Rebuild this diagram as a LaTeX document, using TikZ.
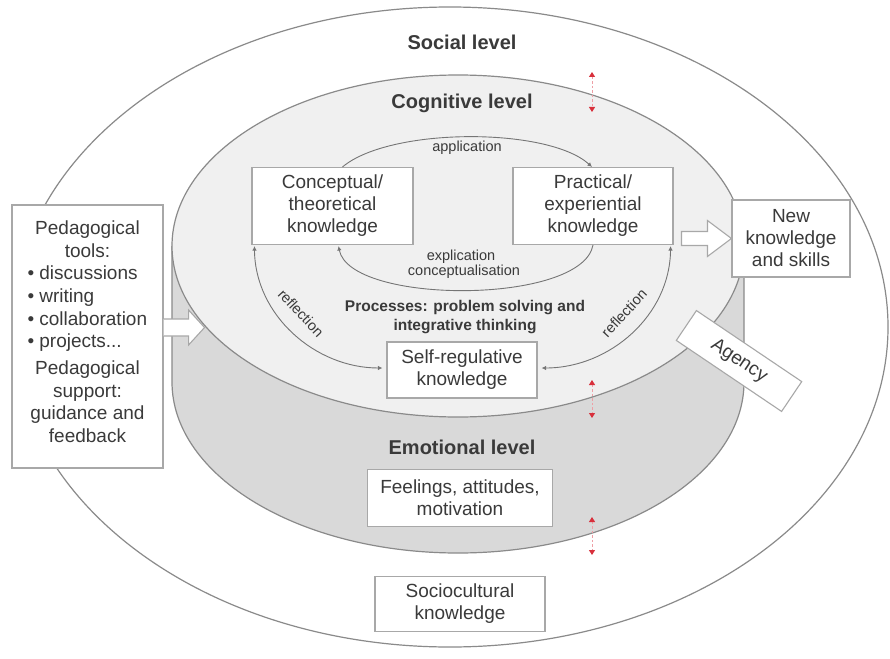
\documentclass[tikz,border=0pt]{standalone}
\usepackage{fontspec}
\setmainfont{Liberation Sans}
\usetikzlibrary{arrows.meta,calc}

\definecolor{ink}{HTML}{3A3A3A}
\definecolor{rim}{HTML}{8A8A8A}
\definecolor{boxline}{HTML}{A8A8A8}
\definecolor{topface}{HTML}{F0F0F0}
\definecolor{sideface}{HTML}{D9D9D9}
\definecolor{linkred}{HTML}{D8303C}
\definecolor{dashred}{HTML}{EE9FA5}

\newcommand\dgbox{\fontsize{19}{22}\selectfont}
\newcommand\dgped{\fontsize{19}{22.7}\selectfont}
\newcommand\dglevel{\bfseries\fontsize{20}{24}\selectfont}
\newcommand\dgproc{\bfseries\fontsize{15.5}{19}\selectfont}
\newcommand\dgsmall{\fontsize{14.5}{16}\selectfont}
\newcommand\dgitem[1]{\makebox[120pt][l]{\textbullet\ #1}}

\tikzset{flowtip/.tip={Latex[length=4.5pt,width=4.5pt]}}

\begin{document}
\begin{tikzpicture}[x=1pt,y=-1pt,
  box/.style={draw=boxline, line width=1.1pt, fill=white, text=ink,
    align=center, inner sep=0pt, font=\dgbox},
  levellabel/.style={text=ink, font=\dglevel},
  proclabel/.style={text=ink, font=\dgproc, align=center},
  flowlabel/.style={text=ink, font=\dgsmall},
  rimline/.style={draw=rim, line width=1.2pt},
  flow/.style={draw=rim!85!black, line width=0.9pt},
  blockarrow/.style={draw=boxline, line width=1.1pt, fill=white, line join=miter},
  redlink/.style={draw=dashred, line width=1pt, dash pattern=on 2.5pt off 2pt,
    {Triangle[length=5pt,width=6pt,color=linkred]}-{Triangle[length=5pt,width=6pt,color=linkred]}}
]
\useasboundingbox (0,0) rectangle (890,658);
\fill[white] (0,0) rectangle (890,658);

% social level: outer ellipse
\draw[rimline] (450,327) ellipse [x radius=438, y radius=320];

% cylinder: side wall, then top face
\fill[sideface] (172,246) -- (172,382) arc[start angle=180, end angle=0, x radius=286, y radius=171] -- (744,246) -- cycle;
\draw[rimline] (172,246) -- (172,382) arc[start angle=180, end angle=0, x radius=286, y radius=171] -- (744,246);
\filldraw[rimline, fill=topface] (458,246) ellipse [x radius=286, y radius=171];

% level titles
\node[levellabel] (social) at (462,42) {Social level};
\node[levellabel] (cognitive) at (462,103) {Cognitive level};
\node[levellabel] (emotional) at (462,447) {Emotional level};

% knowledge boxes
\node[box, minimum width=161pt, minimum height=77pt] (concept) at (332.5,206)
  {Conceptual/\\theoretical\\knowledge};
\node[box, minimum width=160pt, minimum height=77pt] (practical) at (593,206)
  {Practical/\\experiential\\knowledge};
\node[box, minimum width=150pt, minimum height=56pt] (selfreg) at (462,370)
  {Self-regulative\\knowledge};
\node[box, minimum width=185pt, minimum height=57pt] (feelings) at (460,498)
  {Feelings, attitudes,\\motivation};
\node[box, minimum width=170pt, minimum height=55pt] (socio) at (460,604)
  {Sociocultural\\knowledge};
\node[box, minimum width=118pt, minimum height=77pt] (newk) at (791,238.5)
  {New\\knowledge\\and skills};
\node[box, minimum width=127pt, minimum height=36pt, rotate=-34] (agency) at (739,361)
  {Agency};
\node[box, font=\dgped, minimum width=151pt, minimum height=263pt] (ped) at (87.5,336.5)
  {Pedagogical\\tools:\\
   \dgitem{discussions}\\\dgitem{writing}\\\dgitem{collaboration}\\\dgitem{projects...}\\[4pt]
   Pedagogical\\support:\\guidance and\\feedback\\[-13pt]\mbox{}};

% knowledge cycle
\draw[flow, -{flowtip}] ($(concept.north)+(10,0)$) .. controls (390,127) and (548,127) .. ($(practical.north)+(-1,0)$);
\draw[flow, -{flowtip}] (practical.south) .. controls (582,305) and (350,305) .. ($(concept.south)+(6,1)$);
\draw[flow, {flowtip}-{flowtip}] ($(concept.south west)+(3,1)$) .. controls (255,315) and (315,368) .. ($(selfreg.west)+(-4,-2)$);
\draw[flow, {flowtip}-{flowtip}] ($(practical.south east)+(-3,1)$) .. controls (670,315) and (610,368) .. ($(selfreg.east)+(4,-2)$);

\node[flowlabel] (appl) at (467,148) {application};
\node[flowlabel] (expl) at (461,257) {explication};
\node[flowlabel] (concp) at (464,272) {conceptualisation};
\node[flowlabel, rotate=-47] (reflL) at (301,313) {reflection};
\node[flowlabel, rotate=47] (reflR) at (624,313) {reflection};
\node[proclabel] (proc) at (465,317.5) {Processes: problem solving and\\integrative thinking};

% block arrows in and out
\draw[blockarrow] ($(ped.east)+(0,-17.5)$) -- ++(25,0) -- ++(0,-9) -- ++(16,17.5)
  -- ++(-16,17.5) -- ++(0,-9) -- ++(-25,0);
\draw[blockarrow] (newk.west) -- ++(-24,-18) -- ++(0,11) -- ++(-26,0) -- ++(0,14)
  -- ++(26,0) -- ++(0,11) -- cycle;

% links between the levels
\coordinate (l1a) at (592,72);  \coordinate (l1b) at (592,112);
\coordinate (l2a) at (592,380); \coordinate (l2b) at (592,418);
\coordinate (l3a) at (592,517); \coordinate (l3b) at (592,555);
\draw[redlink] (l1a) -- (l1b);
\draw[redlink] (l2a) -- (l2b);
\draw[redlink] (l3a) -- (l3b);
\end{tikzpicture}
\end{document}
